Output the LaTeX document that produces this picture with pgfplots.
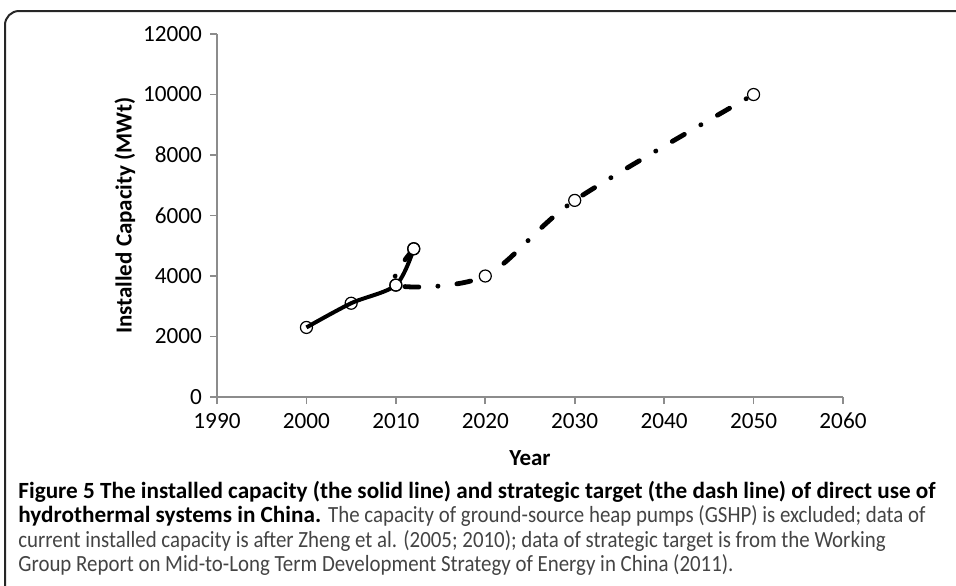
\documentclass[border=0pt]{standalone}
\usepackage{pgfplots}
\pgfplotsset{compat=1.18}
\usepackage{fontspec}
\setmainfont{Carlito}
\newfontfamily\capreg[FakeStretch=0.9]{Carlito}
\definecolor{axgray}{HTML}{8C8C8C}
\definecolor{capgray}{HTML}{444444}
\pgfplotstableread{
year cap
2000 2300
2005 3100
2010 3700
2012 4900
}\solidtab
\pgfplotstableread{
year cap
2012 4900
2010 3700
2020 4000
2030 6500
2050 10000
}\dashtab
\begin{document}
\begin{tikzpicture}[x=0.5pt,y=-0.5pt]
\useasboundingbox (0,0) rectangle (956,585);
\draw[line width=1pt, color=black!85, rounded corners=7pt] (5,620) -- (5,11) -- (990,11);
\begin{axis}[
  at={(108.5pt,-198.5pt)}, anchor=south west,
  scale only axis, width=313pt, height=181.5pt,
  xmin=1990, xmax=2060, ymin=0, ymax=12000,
  xtick={1990,2000,...,2060}, ytick={0,2000,...,12000},
  scaled y ticks=false, scaled x ticks=false,
  axis x line*=bottom, axis y line*=left,
  axis line style={axgray, line width=0.9pt, -},
  tick style={axgray, line width=0.9pt},
  tick align=outside, major tick length=3.5pt,
  /pgf/number format/assume math mode=true,
  /pgf/number format/1000 sep={},
  ticklabel style={font=\fontsize{11.6}{13}\selectfont, text=black},
  xticklabel style={yshift=-1pt, text height=7.5pt, text depth=0pt},
  yticklabel style={xshift=-0.5pt},
  xlabel={Year}, ylabel={Installed Capacity (MWt)},
  xlabel style={font=\fontsize{11.5}{13}\selectfont\bfseries, at={(axis description cs:0.5,-0.168)}, anchor=center},
  ylabel style={font=\fontsize{11.5}{13}\selectfont\bfseries, at={(axis description cs:-0.147,0.5)}, anchor=center},
  clip=false,
]
\addplot[black, line width=2.4pt, smooth, line cap=round,
  dash pattern=on 7pt off 9.5pt on 0.1pt off 9.5pt,
  mark=*, mark options={solid, fill=white, draw=black, line width=0.6pt, scale=1.5}]
  table[x=year,y=cap]{\dashtab};
\addplot[black, line width=2pt, smooth,
  mark=*, mark options={solid, fill=white, draw=black, line width=0.6pt, scale=1.5, fill opacity=0}]
  table[x=year,y=cap]{\solidtab};
\end{axis}
\begin{scope}[every node/.style={anchor=base west, inner sep=0pt, font=\fontsize{11.6}{12}\selectfont}]
\node at (18,498) {\textbf{Figure 5 The installed capacity (the solid line) and strategic target (the dash line) of direct use of}};
\node at (18,522.5) {\textbf{hydrothermal systems in China.} \textcolor{capgray}{\capreg The capacity of ground-source heap pumps (GSHP) is excluded; data of}};
\node at (18,547) {\textcolor{capgray}{\capreg current installed capacity is after Zheng et al. (2005; 2010); data of strategic target is from the Working}};
\node at (18,571.5) {\textcolor{capgray}{\capreg Group Report on Mid-to-Long Term Development Strategy of Energy in China (2011).}};
\end{scope}
\end{tikzpicture}
\end{document}
